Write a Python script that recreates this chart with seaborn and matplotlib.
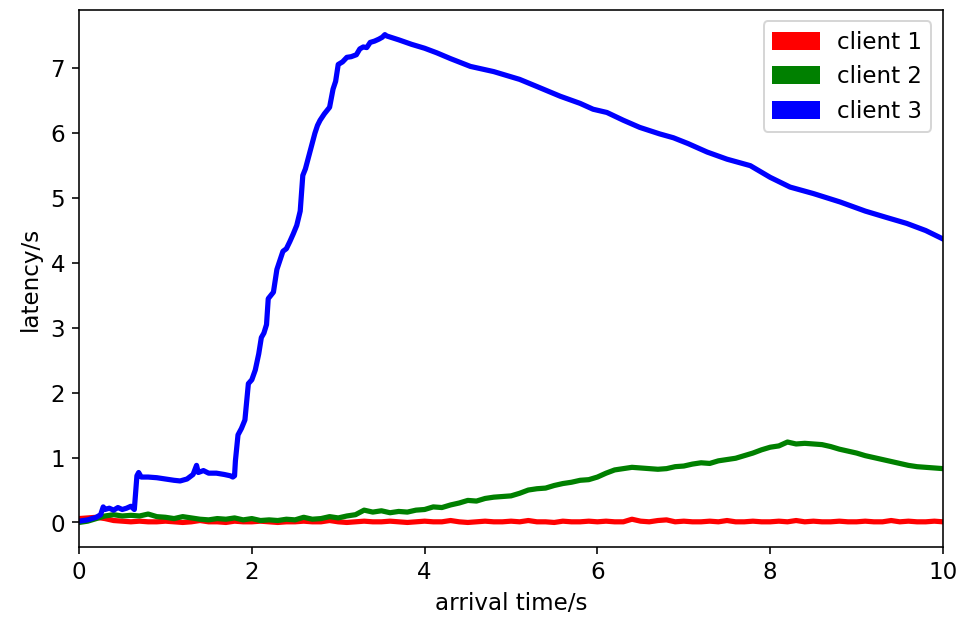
import matplotlib
matplotlib.use('Agg')
import matplotlib.pyplot as plt
from matplotlib.patches import Patch
import pandas as pd
import seaborn as sns

# arrival times (s) for client 1 and client 2 samples
time_rg = [0.0, 0.1, 0.2, 0.3, 0.4, 0.5, 0.6, 0.7, 0.8, 0.9,
           1.0, 1.1, 1.2, 1.3, 1.4, 1.5, 1.6, 1.7, 1.8, 1.9,
           2.0, 2.1, 2.2, 2.3, 2.4, 2.5, 2.6, 2.7, 2.8, 2.9,
           3.0, 3.1, 3.2, 3.3, 3.4, 3.5, 3.6, 3.7, 3.8, 3.9,
           4.0, 4.1, 4.2, 4.3, 4.4, 4.5, 4.6, 4.7, 4.8, 4.9,
           5.0, 5.1, 5.2, 5.3, 5.4, 5.5, 5.6, 5.7, 5.8, 5.9,
           6.0, 6.1, 6.2, 6.3, 6.4, 6.5, 6.6, 6.7, 6.8, 6.9,
           7.0, 7.1, 7.2, 7.3, 7.4, 7.5, 7.6, 7.7, 7.8, 7.9,
           8.0, 8.1, 8.2, 8.3, 8.4, 8.5, 8.6, 8.7, 8.8, 8.9,
           9.0, 9.1, 9.2, 9.3, 9.4, 9.5, 9.6, 9.7, 9.8, 9.9,
           10.0]

client1 = [0.06, 0.07, 0.08, 0.06, 0.03, 0.02, 0.01, 0.02, 0.01, 0.01,
           0.02, 0.01, 0.0, 0.01, 0.03, 0.01, 0.01, 0.0, 0.02, 0.01,
           0.01, 0.02, 0.01, 0.0, 0.01, 0.01, 0.02, 0.01, 0.01, 0.03,
           0.01, 0.0, 0.01, 0.02, 0.01, 0.01, 0.02, 0.01, 0.0, 0.01,
           0.02, 0.01, 0.01, 0.03, 0.01, 0.0, 0.01, 0.02, 0.01, 0.01,
           0.02, 0.01, 0.03, 0.01, 0.01, 0.0, 0.02, 0.01, 0.01, 0.02,
           0.01, 0.02, 0.01, 0.01, 0.05, 0.02, 0.01, 0.03, 0.04, 0.01,
           0.02, 0.01, 0.01, 0.02, 0.01, 0.03, 0.01, 0.01, 0.02, 0.01,
           0.01, 0.02, 0.01, 0.03, 0.01, 0.02, 0.01, 0.01, 0.02, 0.01,
           0.01, 0.02, 0.01, 0.01, 0.03, 0.01, 0.02, 0.01, 0.01, 0.02,
           0.01]

client2 = [0.0, 0.02, 0.06, 0.1, 0.12, 0.1, 0.11, 0.1, 0.13, 0.09,
           0.08, 0.06, 0.09, 0.07, 0.05, 0.04, 0.06, 0.05, 0.07, 0.04,
           0.06, 0.03, 0.04, 0.03, 0.05, 0.04, 0.08, 0.05, 0.06, 0.09,
           0.07, 0.1, 0.12, 0.19, 0.16, 0.18, 0.15, 0.17, 0.16, 0.19,
           0.2, 0.24, 0.23, 0.27, 0.3, 0.34, 0.33, 0.37, 0.39, 0.4,
           0.41, 0.45, 0.5, 0.52, 0.53, 0.57, 0.6, 0.62, 0.65, 0.66,
           0.7, 0.76, 0.81, 0.83, 0.85, 0.84, 0.83, 0.82, 0.83, 0.86,
           0.87, 0.9, 0.92, 0.91, 0.95, 0.97, 0.99, 1.03, 1.07, 1.12,
           1.16, 1.18, 1.24, 1.21, 1.22, 1.21, 1.2, 1.17, 1.13, 1.1,
           1.07, 1.03, 1.0, 0.97, 0.94, 0.91, 0.88, 0.86, 0.85, 0.84,
           0.83]

# client 3 sampled more densely where it moves fast
time_c3 = [0.0, 0.1, 0.2, 0.25, 0.28, 0.3, 0.35, 0.4, 0.45, 0.5,
           0.55, 0.6, 0.64, 0.67, 0.69, 0.72, 0.8, 0.9, 1.0, 1.1,
           1.17, 1.25, 1.32, 1.36, 1.38, 1.44, 1.5, 1.59, 1.68, 1.75,
           1.78, 1.8, 1.81, 1.84, 1.88, 1.92, 1.96, 2.0, 2.04, 2.08,
           2.11, 2.14, 2.17, 2.19, 2.22, 2.25, 2.29, 2.32, 2.36, 2.4,
           2.44, 2.48, 2.52, 2.56, 2.59, 2.62, 2.65, 2.69, 2.73, 2.76,
           2.79, 2.84, 2.9, 2.94, 2.97, 3.0, 3.05, 3.1, 3.15, 3.21,
           3.25, 3.29, 3.33, 3.37, 3.42, 3.47, 3.51, 3.54, 3.56, 3.7,
           3.85, 4.0, 4.14, 4.3, 4.53, 4.8, 5.1, 5.3, 5.57, 5.8,
           5.95, 6.11, 6.3, 6.49, 6.72, 6.88, 7.05, 7.27, 7.5, 7.77,
           8.0, 8.23, 8.5, 8.81, 9.1, 9.35, 9.58, 9.8, 10.0]

client3 = [0.02, 0.04, 0.08, 0.12, 0.24, 0.2, 0.22, 0.19, 0.23, 0.2,
           0.22, 0.25, 0.2, 0.72, 0.77, 0.7, 0.7, 0.69, 0.67, 0.65,
           0.64, 0.67, 0.74, 0.88, 0.77, 0.8, 0.76, 0.76, 0.74, 0.72,
           0.7, 0.72, 0.95, 1.35, 1.45, 1.58, 2.14, 2.2, 2.35, 2.6,
           2.85, 2.92, 3.05, 3.45, 3.5, 3.55, 3.9, 4.02, 4.18, 4.22,
           4.33, 4.45, 4.58, 4.8, 5.35, 5.45, 5.6, 5.8, 6.0, 6.12,
           6.2, 6.3, 6.4, 6.68, 6.8, 7.06, 7.1, 7.17, 7.18, 7.21,
           7.3, 7.33, 7.32, 7.4, 7.42, 7.45, 7.48, 7.52, 7.5, 7.44,
           7.37, 7.31, 7.24, 7.15, 7.03, 6.95, 6.83, 6.72, 6.57, 6.46,
           6.37, 6.32, 6.2, 6.09, 5.99, 5.93, 5.84, 5.71, 5.6, 5.5,
           5.32, 5.17, 5.07, 4.94, 4.8, 4.7, 4.61, 4.5, 4.37]

clients = ['client 1', 'client 2', 'client 3']
colors = ['red', 'green', 'blue']

df = pd.concat([
    pd.DataFrame({'time': time_rg, 'latency': client1, 'client': clients[0]}),
    pd.DataFrame({'time': time_rg, 'latency': client2, 'client': clients[1]}),
    pd.DataFrame({'time': time_c3, 'latency': client3, 'client': clients[2]}),
], ignore_index=True)

plt.rcParams['font.size'] = 11.5

fig, ax = plt.subplots(figsize=(6.653, 4.3475), dpi=144)
fig.subplots_adjust(left=0.0825, right=0.9843, bottom=0.126, top=0.984)

sns.lineplot(data=df, x='time', y='latency', hue='client', hue_order=clients,
             palette=dict(zip(clients, colors)), estimator=None, sort=False,
             linewidth=2.6, legend=False, ax=ax)

ax.set_xlim(0, 10)
ax.set_ylim(-0.38, 7.9)
ax.set_xlabel('arrival time/s')
ax.set_ylabel('latency/s')

handles = [Patch(color=c, label=l) for c, l in zip(colors, clients)]
ax.legend(handles=handles, loc='upper right')

plt.savefig('out.png', dpi=144)
plt.close()
